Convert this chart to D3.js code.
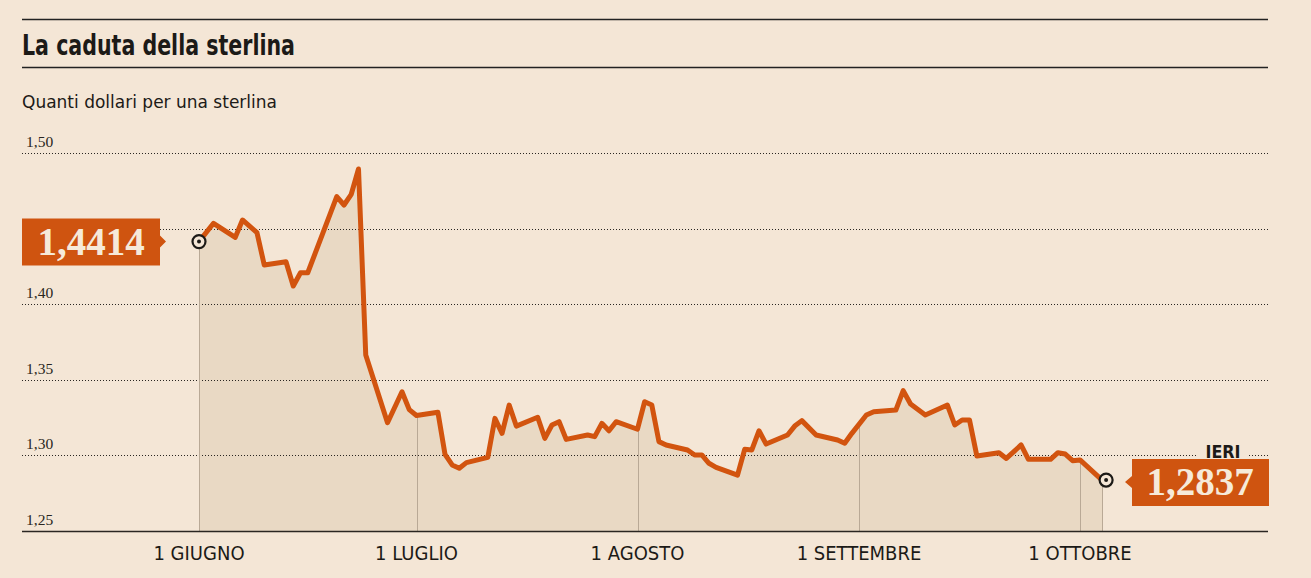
<!DOCTYPE html>
<html>
<head>
<meta charset="utf-8">
<script src="https://cdn.jsdelivr.net/npm/d3@7"></script>
<style>
  body { margin: 0; background: #f4e6d6; }
  svg { display: block; }
</style>
</head>
<body>
<div id="chart"></div>
<script>
// dati: cambio sterlina/dollaro, giugno - ottobre 2016
var dates = ["2016-06-01","2016-06-03","2016-06-06","2016-06-07","2016-06-09","2016-06-10","2016-06-13","2016-06-14","2016-06-15","2016-06-16",
  "2016-06-20","2016-06-21","2016-06-22","2016-06-23","2016-06-24","2016-06-27","2016-06-29","2016-06-30","2016-07-01","2016-07-04",
  "2016-07-05","2016-07-06","2016-07-07","2016-07-08","2016-07-11","2016-07-12","2016-07-13","2016-07-14","2016-07-15","2016-07-18",
  "2016-07-19","2016-07-20","2016-07-21","2016-07-22","2016-07-25","2016-07-26","2016-07-27","2016-07-28","2016-07-29","2016-08-01",
  "2016-08-02","2016-08-03","2016-08-04","2016-08-05","2016-08-08","2016-08-09","2016-08-10","2016-08-11","2016-08-12","2016-08-15",
  "2016-08-16","2016-08-17","2016-08-18","2016-08-19","2016-08-22","2016-08-23","2016-08-24","2016-08-26","2016-08-29","2016-08-30",
  "2016-08-31","2016-09-02","2016-09-03","2016-09-06","2016-09-07","2016-09-08","2016-09-10","2016-09-13","2016-09-14","2016-09-15",
  "2016-09-16","2016-09-17","2016-09-20","2016-09-21","2016-09-23","2016-09-24","2016-09-27","2016-09-28","2016-09-29","2016-09-30",
  "2016-10-01","2016-10-04"];
var values = [1.4414,1.4535,1.4442,1.4557,1.4473,1.4259,1.4281,1.4120,1.4208,1.4208,
  1.4711,1.4656,1.4727,1.4894,1.3664,1.3216,1.3421,1.3303,1.3264,1.3286,
  1.3007,1.2937,1.2915,1.2952,1.2987,1.3245,1.3146,1.3333,1.3194,1.3252,
  1.3113,1.3201,1.3223,1.3106,1.3135,1.3124,1.3212,1.3163,1.3223,1.3173,
  1.3355,1.3333,1.3091,1.3069,1.3036,1.3003,1.3003,1.2948,1.2921,1.2870,
  1.3040,1.3036,1.3163,1.3075,1.3135,1.3194,1.3230,1.3135,1.3102,1.3080,
  1.3146,1.3267,1.3289,1.3300,1.3428,1.3340,1.3267,1.3333,1.3201,1.3234,
  1.3234,1.2996,1.3018,1.2980,1.3069,1.2974,1.2974,1.3018,1.3009,1.2965,
  1.2970,1.2837];
var yTicks = [1.25, 1.30, 1.35, 1.40, 1.45, 1.50];
var yTickLabels = ["1,25","1,30","1,35","1,40","","1,50"];   // 1,45 coperto dal riquadro
var monthDates = ["2016-06-01","2016-07-01","2016-08-01","2016-09-01","2016-10-01"];
var monthLabels = ["1 GIUGNO","1 LUGLIO","1 AGOSTO","1 SETTEMBRE","1 OTTOBRE"];
var firstLabel = "1,4414";
var lastLabel = "1,2837";

var W = 1311, H = 578;
var bg = "#f4e6d6", orange = "#d2540f", boxCol = "#cf5410";
var left = 22, right = 1268;

var parse = d3.timeParse("%Y-%m-%d");
var data = dates.map(function(d, i) { return {date: parse(d), value: values[i]}; });

var svg = d3.select("#chart").append("svg")
    .attr("width", W).attr("height", H)
    .style("background", bg);

// scala temporale a tratti, un tratto per mese
var x = d3.scaleTime()
    .domain(monthDates.map(parse))
    .range([199, 416.5, 637.5, 859, 1080]);
var y = d3.scaleLinear().domain([1.25, 1.50]).range([531, 153]);

// intestazione
svg.append("line").attr("x1", left).attr("x2", right).attr("y1", 19.5).attr("y2", 19.5)
    .attr("stroke", "#222").attr("stroke-width", 1.3);
svg.append("text").attr("x", left).attr("y", 55)
    .style("font-family", "'Liberation Sans Narrow', 'DejaVu Sans Condensed', sans-serif")
    .style("font-weight", "bold").style("font-size", "28px").attr("fill", "#1c1a17")
    .attr("textLength", 273).attr("lengthAdjust", "spacingAndGlyphs")
    .text("La caduta della sterlina");
svg.append("line").attr("x1", left).attr("x2", right).attr("y1", 67.5).attr("y2", 67.5)
    .attr("stroke", "#222").attr("stroke-width", 1.3);
svg.append("text").attr("x", left).attr("y", 108)
    .style("font-family", "'Liberation Sans Narrow', 'DejaVu Sans Condensed', sans-serif")
    .style("font-size", "18px").attr("fill", "#1c1a17")
    .attr("textLength", 255).attr("lengthAdjust", "spacingAndGlyphs")
    .text("Quanti dollari per una sterlina");

// area sotto la linea
var area = d3.area()
    .x(function(d) { return x(d.date); })
    .y0(y(1.25))
    .y1(function(d) { return y(d.value); });
svg.append("path").datum(data).attr("d", area).attr("fill", "#e9d9c4");

// griglia orizzontale tratteggiata
svg.append("g").selectAll("line")
    .data(yTicks.slice(1))
  .enter().append("line")
    .attr("x1", left).attr("x2", right)
    .attr("y1", function(d) { return Math.round(y(d)) + 0.5; })
    .attr("y2", function(d) { return Math.round(y(d)) + 0.5; })
    .attr("stroke", "#2a2622").attr("stroke-width", 1)
    .attr("stroke-dasharray", "1,2");

svg.append("g").selectAll("text")
    .data(yTicks.filter(function(d, i) { return yTickLabels[i] !== ""; }))
  .enter().append("text")
    .attr("x", 26)
    .attr("y", function(d) { return y(d) - 6; })
    .style("font-family", "'Liberation Serif', 'DejaVu Serif', serif")
    .style("font-size", "15.5px").attr("fill", "#2a2622")
    .text(function(d) { return yTickLabels[yTicks.indexOf(d)]; });

// verticali ai primi del mese, dalla linea alla base
var bisect = d3.bisector(function(d) { return d.date; }).left;
function valueAt(dt) {
  var i = bisect(data, dt);
  if (i <= 0) return data[0].value;
  if (i >= data.length) return data[data.length - 1].value;
  var a = data[i - 1], b = data[i];
  var t = (dt - a.date) / (b.date - a.date);
  return a.value + t * (b.value - a.value);
}
var vDates = monthDates.map(parse).concat([data[data.length - 1].date]);
svg.append("g").selectAll("line")
    .data(vDates)
  .enter().append("line")
    .attr("x1", function(d) { return Math.round(x(d)) + 0.5; })
    .attr("x2", function(d) { return Math.round(x(d)) + 0.5; })
    .attr("y1", function(d) { return y(valueAt(d)); })
    .attr("y2", y(1.25))
    .attr("stroke", "#b9a996").attr("stroke-width", 1);

// linea di base
svg.append("line").attr("x1", left).attr("x2", right)
    .attr("y1", y(1.25) + 0.5).attr("y2", y(1.25) + 0.5)
    .attr("stroke", "#2a2622").attr("stroke-width", 1.5);

// etichette asse x
svg.append("g").selectAll("text")
    .data(monthDates)
  .enter().append("text")
    .attr("x", function(d) { return x(parse(d)); })
    .attr("y", 560)
    .attr("text-anchor", "middle")
    .style("font-family", "'Liberation Sans Narrow', 'DejaVu Sans Condensed', sans-serif")
    .style("font-size", "20px").attr("fill", "#1c1a17")
    .text(function(d, i) { return monthLabels[i]; });

// linea
var line = d3.line()
    .x(function(d) { return x(d.date); })
    .y(function(d) { return y(d.value); });
svg.append("path").datum(data).attr("d", line)
    .attr("fill", "none").attr("stroke", orange)
    .attr("stroke-width", 5).attr("stroke-linejoin", "round").attr("stroke-linecap", "round");

// marcatori inizio e fine
var ends = [data[0], data[data.length - 1]];
var mk = svg.append("g").selectAll("g")
    .data(ends)
  .enter().append("g")
    .attr("transform", function(d, i) {
      return "translate(" + (x(d.date) + (i ? 4 : 0)) + "," + y(d.value) + ")";
    });
mk.append("circle").attr("r", 6.5).attr("fill", bg).attr("stroke", "#1c1a17").attr("stroke-width", 2.2);
mk.append("circle").attr("r", 2).attr("fill", "#1c1a17");

// riquadro sinistro
var yFirst = y(data[0].value);
svg.append("path")
    .attr("d", "M22," + (yFirst - 23) + "H160V" + (yFirst - 6) + "L166," + yFirst + "L160," + (yFirst + 6) +
               "V" + (yFirst + 24) + "H22Z")
    .attr("fill", boxCol);
svg.append("text").attr("x", 91).attr("y", yFirst + 13)
    .attr("text-anchor", "middle")
    .style("font-family", "'Liberation Serif', 'DejaVu Serif', serif")
    .style("font-weight", "bold").style("font-size", "39px").attr("fill", "#f6ead9")
    .text(firstLabel);

// riquadro destro
var yLast = y(data[data.length - 1].value) + 2;
svg.append("path")
    .attr("d", "M1132," + (yLast - 23) + "H1269V" + (yLast + 24) + "H1132V" + (yLast + 6) +
               "L1125," + yLast + "L1132," + (yLast - 6) + "Z")
    .attr("fill", boxCol);
svg.append("text").attr("x", 1200).attr("y", yLast + 13)
    .attr("text-anchor", "middle")
    .style("font-family", "'Liberation Serif', 'DejaVu Serif', serif")
    .style("font-weight", "bold").style("font-size", "39px").attr("fill", "#f6ead9")
    .text(lastLabel);

// etichetta IERI
svg.append("rect").attr("x", 1197).attr("y", 440).attr("width", 51).attr("height", 19).attr("fill", bg);
svg.append("text").attr("x", 1223).attr("y", 458)
    .attr("text-anchor", "middle")
    .style("font-family", "'Liberation Sans Narrow', 'DejaVu Sans Condensed', sans-serif")
    .style("font-weight", "bold").style("font-size", "17px").attr("fill", "#1c1a17")
    .attr("textLength", 35).attr("lengthAdjust", "spacingAndGlyphs")
    .text("IERI");
</script>
</body>
</html>
